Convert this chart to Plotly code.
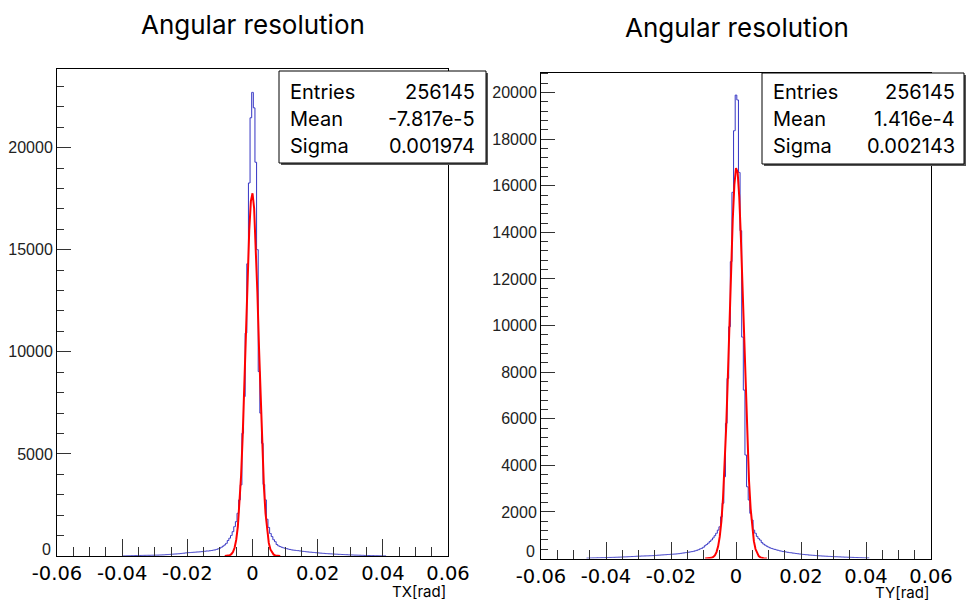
import numpy as np
import plotly.graph_objects as go

# ---------------- data ----------------
bin_width = 0.0005
tx_first_center = -0.040
ty_first_center = -0.046

tx_counts = [
    2, 3, 5, 7, 10, 12, 15, 17, 21, 22,
    24, 27, 28, 30, 32, 33, 35, 34, 37, 38,
    40, 43, 44, 48, 51, 55, 59, 66, 69, 76,
    81, 88, 96, 99, 106, 111, 119, 131, 138, 151,
    158, 166, 169, 177, 182, 188, 197, 199, 207, 214,
    226, 233, 246, 244, 259, 268, 287, 298, 322, 352,
    381, 428, 482, 541, 618, 757, 872, 1003, 1192, 1438,
    1682, 2092, 2748, 3481, 6012, 7809, 10918, 14312, 18268, 21462,
    22705, 21948, 19283, 15004, 9031, 6998, 5522, 3502, 2749, 1801,
    1398, 1102, 951, 798, 702, 561, 498, 462, 428, 401,
    379, 362, 338, 321, 302, 288, 281, 268, 262, 249,
    241, 228, 222, 208, 201, 189, 186, 177, 171, 160,
    156, 147, 141, 132, 128, 119, 116, 109, 106, 99,
    96, 89, 87, 81, 79, 73, 71, 65, 63, 57,
    56, 51, 49, 44, 43, 39, 38, 33, 32, 27,
    27, 23, 23, 19, 19, 15, 15, 11, 11, 7,
    6, 4, 3,
]

ty_counts = [
    15, 17, 20, 23, 24, 26, 28, 31, 32, 34,
    36, 37, 40, 42, 45, 46, 48, 50, 53, 55,
    58, 60, 64, 68, 70, 73, 77, 81, 84, 87,
    92, 97, 100, 101, 106, 107, 110, 113, 114, 118,
    121, 124, 131, 134, 141, 144, 151, 154, 161, 164,
    171, 174, 181, 184, 190, 193, 201, 208, 219, 231,
    239, 251, 258, 271, 284, 296, 309, 331, 352, 378,
    412, 438, 481, 548, 602, 658, 731, 798, 882, 978,
    1082, 1218, 1362, 1788, 2372, 3508, 5802, 7731, 9948, 12742,
    15718, 18362, 19890, 19682, 16571, 14068, 9502, 7229, 4441, 3078,
    2512, 1938, 1651, 1218, 1082, 948, 852, 788, 682, 618,
    572, 528, 491, 458, 432, 408, 391, 368, 352, 329,
    316, 298, 291, 278, 266, 253, 246, 233, 226, 213,
    206, 194, 191, 178, 171, 163, 161, 148, 146, 138,
    136, 126, 123, 116, 113, 106, 105, 99, 97, 91,
    89, 84, 83, 77, 76, 71, 69, 64, 63, 59,
    57, 53, 52, 49, 48, 44, 43, 39, 38, 34,
    32, 29, 28, 25, 24,
]

# fitted curves, sampled every 0.0005
fit_step = 0.0005
fit_tx_first = -0.0085
fit_tx_y = [2, 5, 15, 37, 88, 195, 404, 786, 1435, 2455, 3940, 5930, 8364,
            11060, 13710, 15940, 17380, 17765, 17030, 15300, 12890, 10180,
            7540, 5240, 3410, 2080, 1190, 640, 322, 152, 67, 28, 11, 4, 1.5]
fit_ty_first = -0.0095
fit_ty_y = [0.7, 1.8, 4.9, 12, 29, 64, 136, 274, 520, 936, 1596, 2576, 3941,
            5705, 7819, 10159, 12490, 14547, 16044, 16759, 16578, 15528,
            13776, 11575, 9209, 6938, 4951, 3345, 2141, 1297, 744, 405, 208,
            102, 47, 20, 8.5, 3.4, 1.3]

x_tick_vals = [-0.06, -0.04, -0.02, 0, 0.02, 0.04, 0.06]
x_tick_text = ["-0.06", "-0.04", "-0.02", "0", "0.02", "0.04", "0.06"]
ytx_tick_vals = [0, 5000, 10000, 15000, 20000]
ytx_tick_text = ["", "5000", "10000", "15000", "20000"]
yty_tick_vals = [0, 2000, 4000, 6000, 8000, 10000, 12000, 14000, 16000, 18000, 20000]
yty_tick_text = ["", "2000", "4000", "6000", "8000", "10000", "12000", "14000",
                 "16000", "18000", "20000"]
y_zero_label = "0"

titles = ["Angular resolution", "Angular resolution"]
axis_titles = ["TX[rad]", "TY[rad]"]
stat_labels = ["Entries", "Mean", "Sigma"]
stat_tx = ["256145", "-7.817e-5", "0.001974"]
stat_ty = ["256145", "1.416e-4", "0.002143"]

# ---------------- build ----------------
tx_centers = np.round(tx_first_center + np.arange(len(tx_counts)) * bin_width, 6)
ty_centers = np.round(ty_first_center + np.arange(len(ty_counts)) * bin_width, 6)
fit_tx_x = np.round(fit_tx_first + np.arange(len(fit_tx_y)) * fit_step, 6)
fit_ty_x = np.round(fit_ty_first + np.arange(len(fit_ty_y)) * fit_step, 6)

W, H = 966, 602
HIST_COLOR = "#3434c4"

fig = go.Figure()
fig.add_trace(go.Scatter(x=tx_centers, y=tx_counts, mode="lines",
                         line=dict(color=HIST_COLOR, width=1, shape="hvh"),
                         xaxis="x", yaxis="y", hoverinfo="skip"))
fig.add_trace(go.Scatter(x=fit_tx_x, y=fit_tx_y, mode="lines",
                         line=dict(color="#ff0000", width=2),
                         xaxis="x", yaxis="y", hoverinfo="skip"))
fig.add_trace(go.Scatter(x=ty_centers, y=ty_counts, mode="lines",
                         line=dict(color=HIST_COLOR, width=1, shape="hvh"),
                         xaxis="x2", yaxis="y2", hoverinfo="skip"))
fig.add_trace(go.Scatter(x=fit_ty_x, y=fit_ty_y, mode="lines",
                         line=dict(color="#ff0000", width=2),
                         xaxis="x2", yaxis="y2", hoverinfo="skip"))


def px_x(p):
    return p / W


def px_y(p):
    return 1 - p / H


def xaxis_style(domain, anchor):
    return dict(
        domain=domain, anchor=anchor, range=[-0.06, 0.06], automargin=False,
        tickmode="array", tickvals=x_tick_vals, ticktext=x_tick_text,
        ticks="inside", ticklen=17, tickwidth=1, tickcolor="#333",
        minor=dict(ticks="inside", ticklen=9, tickwidth=1, tickcolor="#333",
                   tickmode="linear", tick0=0, dtick=0.005, showgrid=False),
        showline=True, linecolor="black", linewidth=1, mirror=True,
        showgrid=False, zeroline=False,
        tickfont=dict(family="DejaVu Sans", size=19.5, color="black"),
    )


def yaxis_style(domain, anchor, ymax, tickvals, ticktext, minor_dtick):
    return dict(
        domain=domain, anchor=anchor, range=[0, ymax], automargin=False,
        tickmode="array", tickvals=tickvals, ticktext=ticktext,
        ticks="inside", ticklen=14, tickwidth=1, tickcolor="#333",
        minor=dict(ticks="inside", ticklen=7, tickwidth=1, tickcolor="#333",
                   tickmode="linear", tick0=0, dtick=minor_dtick, showgrid=False),
        showline=True, linecolor="black", linewidth=1, mirror=True,
        showgrid=False, zeroline=False,
        tickfont=dict(family="Liberation Sans", size=16, color="#222"),
    )


layout = dict(
    width=W, height=H, margin=dict(l=0, r=0, t=0, b=0, autoexpand=False),
    paper_bgcolor="white", plot_bgcolor="white", showlegend=False,
    xaxis=xaxis_style([px_x(57), px_x(448)], "y"),
    yaxis=yaxis_style([px_y(556), px_y(69)], "x", 23850, ytx_tick_vals, ytx_tick_text, 1000),
    xaxis2=xaxis_style([px_x(541), px_x(931)], "y2"),
    yaxis2=yaxis_style([px_y(558.5), px_y(72.5)], "x2", 20860, yty_tick_vals, yty_tick_text, 400),
)
fig.update_layout(**layout)

TITLE_FONT = "Inter"
annotations = []
# main titles
annotations.append(dict(x=px_x(253), y=px_y(24), xref="paper", yref="paper",
                        text=titles[0], showarrow=False, xanchor="center", yanchor="middle",
                        font=dict(family=TITLE_FONT, size=26, color="black")))
annotations.append(dict(x=px_x(737), y=px_y(28), xref="paper", yref="paper",
                        text=titles[1], showarrow=False, xanchor="center", yanchor="middle",
                        font=dict(family=TITLE_FONT, size=26, color="black")))
# axis titles
annotations.append(dict(x=px_x(448), y=px_y(591), xref="paper", yref="paper",
                        text=axis_titles[0], showarrow=False, xanchor="right", yanchor="middle",
                        font=dict(family=TITLE_FONT, size=15, color="black")))
annotations.append(dict(x=px_x(931), y=px_y(592), xref="paper", yref="paper",
                        text=axis_titles[1], showarrow=False, xanchor="right", yanchor="middle",
                        font=dict(family=TITLE_FONT, size=15, color="black")))
# zero labels of the y axes, sitting just above the x axis as in the original
annotations.append(dict(x=px_x(53), y=px_y(549), xref="paper", yref="paper",
                        text=y_zero_label, showarrow=False, xanchor="right", yanchor="middle",
                        font=dict(family="Liberation Sans", size=16, color="#222")))
annotations.append(dict(x=px_x(537), y=px_y(551), xref="paper", yref="paper",
                        text=y_zero_label, showarrow=False, xanchor="right", yanchor="middle",
                        font=dict(family="Liberation Sans", size=16, color="#222")))

shapes = []
boxes = [
    (279, 486, 71, 163, 288, 477, stat_tx),
    (762, 964, 73, 164, 771, 957, stat_ty),
]
rows_y = [92, 119, 146]
for (bx0, bx1, by0, by1, lx, vx, vals) in boxes:
    # shadow
    shapes.append(dict(type="rect", xref="paper", yref="paper",
                       x0=px_x(bx0 + 2), x1=px_x(bx1 + 2), y0=px_y(by1 + 2), y1=px_y(by0 + 2),
                       line=dict(width=0), fillcolor="#555", layer="above"))
    shapes.append(dict(type="rect", xref="paper", yref="paper",
                       x0=px_x(bx0), x1=px_x(bx1), y0=px_y(by1), y1=px_y(by0),
                       line=dict(color="black", width=1), fillcolor="white", layer="above"))
    for lab, val, ry in zip(stat_labels, vals, rows_y):
        annotations.append(dict(x=px_x(lx), y=px_y(ry), xref="paper", yref="paper",
                                text=lab, showarrow=False, xanchor="left", yanchor="middle",
                                font=dict(family=TITLE_FONT, size=20, color="black")))
        annotations.append(dict(x=px_x(vx), y=px_y(ry), xref="paper", yref="paper",
                                text=val, showarrow=False, xanchor="right", yanchor="middle",
                                font=dict(family=TITLE_FONT, size=20, color="black")))

fig.update_layout(annotations=annotations, shapes=shapes)
fig.write_html("out.html")
